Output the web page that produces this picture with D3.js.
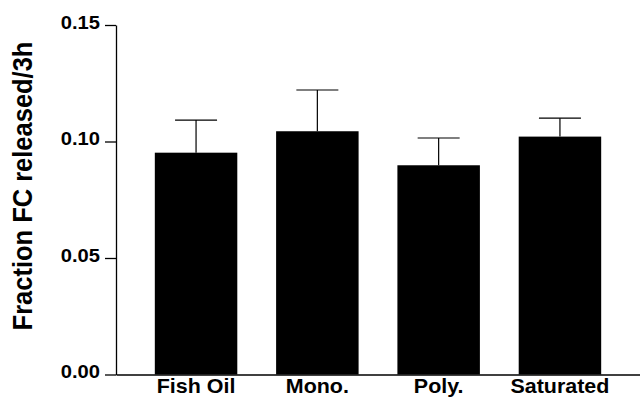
<!DOCTYPE html>
<html>
<head>
<meta charset="utf-8">
<script src="https://cdn.jsdelivr.net/npm/d3@7"></script>
<style>
  html, body { margin: 0; padding: 0; background: #fff; }
  svg { display: block; }
  text { font-family: "Liberation Sans", Arial, sans-serif; font-weight: bold; fill: #000; }
</style>
</head>
<body>
<svg id="chart" width="640" height="397"></svg>
<script>
// Diet groups and the fraction of free cholesterol released over 3 h
const categories = ["Fish Oil", "Mono.", "Poly.", "Saturated"];
const means = [0.0952, 0.1044, 0.0898, 0.1021];
const sem = [0.0140, 0.0177, 0.0117, 0.0079];
const yTicks = [0.00, 0.05, 0.10, 0.15];
const yLabel = "Fraction FC released/3h";

const svg = d3.select("#chart");

const x = d3.scaleBand()
  .domain(categories)
  .range([116, 640])
  .paddingInner(0.32)
  .paddingOuter(0.32);

const y = d3.scaleLinear()
  .domain([0, 0.15])
  .range([374.5, 25]);

// Bars
svg.append("g")
  .selectAll("rect")
  .data(categories)
  .join("rect")
  .attr("x", d => x(d))
  .attr("width", x.bandwidth())
  .attr("y", (d, i) => y(means[i]))
  .attr("height", (d, i) => y(0) - y(means[i]))
  .attr("fill", "#000");

// Upper error bars (mean + SEM)
const capHalf = 21;
const err = svg.append("g").attr("stroke", "#000").attr("stroke-width", 1.2);
categories.forEach((c, i) => {
  const cx = x(c) + x.bandwidth() / 2;
  err.append("line")
    .attr("x1", cx).attr("x2", cx)
    .attr("y1", y(means[i])).attr("y2", y(means[i] + sem[i]));
  err.append("line")
    .attr("x1", cx - capHalf).attr("x2", cx + capHalf)
    .attr("y1", y(means[i] + sem[i])).attr("y2", y(means[i] + sem[i]));
});

// Y axis
const yAxis = svg.append("g")
  .attr("transform", "translate(116,0)")
  .call(d3.axisLeft(y)
    .tickValues(yTicks)
    .tickFormat(d3.format(".2f"))
    .tickSize(11)
    .tickSizeOuter(0)
    .tickPadding(5));
yAxis.select(".domain").attr("stroke", "#000").attr("stroke-width", 1.3);
yAxis.selectAll(".tick line").attr("stroke", "#000").attr("stroke-width", 1.3);
yAxis.selectAll(".tick text")
  .attr("x", 0)
  .attr("dy", "0.36em")
  .attr("transform", "translate(-16,-3) scale(1.12,1)")
  .style("font-size", "18px")
  .style("font-family", "'Liberation Sans', Arial, sans-serif")
  .style("font-weight", "bold");

// X axis
const xAxis = svg.append("g")
  .attr("transform", `translate(0,${y(0)})`)
  .call(d3.axisBottom(x).tickSize(0).tickSizeOuter(0).tickPadding(0));
xAxis.select(".domain").attr("stroke", "#000").attr("stroke-width", 1.3);
xAxis.selectAll(".tick text")
  .attr("y", 0)
  .attr("dy", 0)
  .attr("transform", "translate(0,18.5) scale(1.1,1)")
  .style("font-size", "19.5px")
  .style("font-family", "'Liberation Sans', Arial, sans-serif")
  .style("font-weight", "bold");

// Y axis title
svg.append("text")
  .attr("transform", "translate(31.5,186) scale(1.08,1) rotate(-90)")
  .attr("text-anchor", "middle")
  .style("font-size", "25.5px")
  .text(yLabel);
</script>
</body>
</html>
